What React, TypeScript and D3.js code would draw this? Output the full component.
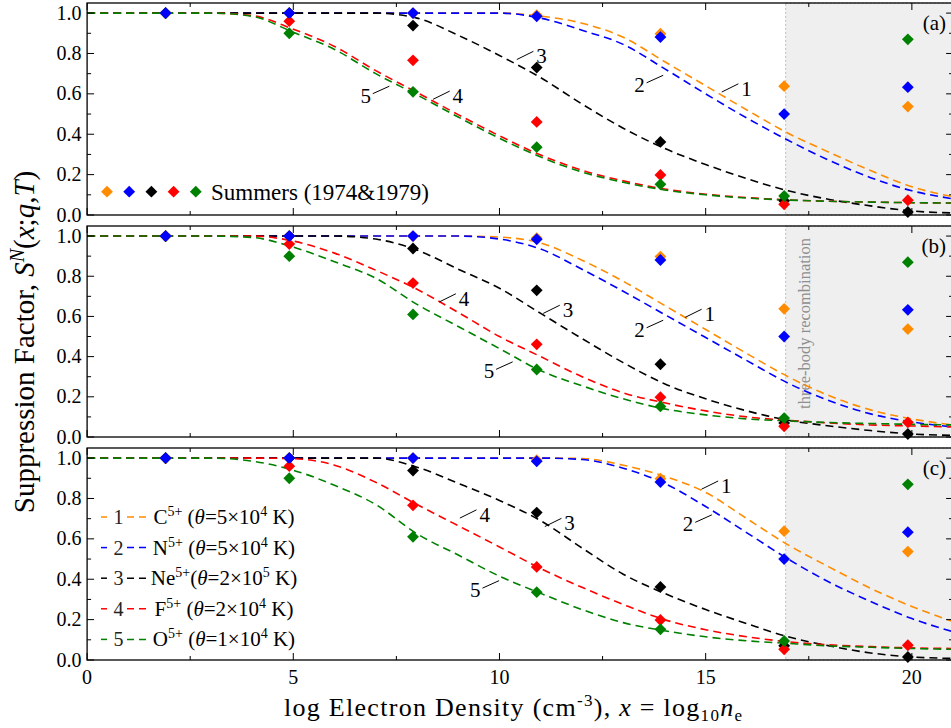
import React from "react";
import * as d3 from "d3";

// ---------- data ----------
const curveX = [0, 1, 2, 3, 4, 5, 6, 7, 8, 9, 10, 11, 12, 13, 14, 15, 16, 17, 18, 19, 20, 21];

// panel (a)
const aC = [1, 1, 1, 1, 1, 1, 1, 1, 1, 1, 1, 0.985, 0.95, 0.88, 0.76, 0.64, 0.52, 0.405, 0.31, 0.22, 0.14, 0.09];
const aN = [1, 1, 1, 1, 1, 1, 1, 1, 1, 1, 1, 0.975, 0.915, 0.845, 0.725, 0.6, 0.48, 0.37, 0.27, 0.185, 0.12, 0.08];
const aNe = [1, 1, 1, 1, 1, 1, 1, 1, 0.975, 0.89, 0.79, 0.68, 0.55, 0.43, 0.33, 0.25, 0.18, 0.12, 0.077, 0.045, 0.02, 0.01];
const aF = [1, 1, 1, 1, 0.988, 0.92, 0.835, 0.715, 0.607, 0.497, 0.392, 0.297, 0.222, 0.169, 0.129, 0.103, 0.086, 0.075, 0.068, 0.064, 0.061, 0.059];
const aO = [1, 1, 1, 1, 0.984, 0.905, 0.82, 0.7, 0.595, 0.485, 0.38, 0.287, 0.213, 0.162, 0.124, 0.1, 0.084, 0.074, 0.068, 0.064, 0.061, 0.059];

// panel (b)
const bC = [1, 1, 1, 1, 1, 1, 1, 1, 1, 1, 0.995, 0.965, 0.88, 0.775, 0.655, 0.535, 0.415, 0.3, 0.205, 0.135, 0.09, 0.06];
const bN = [1, 1, 1, 1, 1, 1, 1, 1, 1, 1, 0.985, 0.935, 0.835, 0.725, 0.61, 0.495, 0.38, 0.268, 0.18, 0.115, 0.075, 0.05];
const bNe = [1, 1, 1, 1, 1, 1, 1, 0.985, 0.93, 0.835, 0.74, 0.615, 0.49, 0.37, 0.265, 0.19, 0.13, 0.083, 0.055, 0.032, 0.015, 0.008];
const bF = [1, 1, 1, 1, 1, 0.975, 0.915, 0.83, 0.735, 0.62, 0.5, 0.4, 0.3, 0.22, 0.17, 0.13, 0.1, 0.083, 0.07, 0.06, 0.055, 0.05];
const bO = [1, 1, 1, 1, 0.993, 0.945, 0.872, 0.79, 0.66, 0.55, 0.44, 0.33, 0.255, 0.19, 0.14, 0.11, 0.09, 0.08, 0.072, 0.067, 0.063, 0.06];

// panel (c)
const cC = [1, 1, 1, 1, 1, 1, 1, 1, 1, 1, 1, 1, 0.998, 0.965, 0.91, 0.83, 0.7, 0.57, 0.46, 0.355, 0.265, 0.19];
const cN = [1, 1, 1, 1, 1, 1, 1, 1, 1, 1, 1, 1, 0.993, 0.95, 0.875, 0.76, 0.63, 0.5, 0.385, 0.29, 0.205, 0.14];
const cNe = [1, 1, 1, 1, 1, 1, 1, 1, 0.955, 0.875, 0.79, 0.69, 0.555, 0.425, 0.33, 0.25, 0.18, 0.115, 0.07, 0.035, 0.015, 0.008];
const cF = [1, 1, 1, 1, 1, 0.997, 0.965, 0.88, 0.77, 0.665, 0.56, 0.453, 0.36, 0.275, 0.2, 0.15, 0.115, 0.09, 0.075, 0.066, 0.06, 0.057];
const cO = [1, 1, 1, 1, 0.985, 0.94, 0.865, 0.77, 0.625, 0.52, 0.415, 0.33, 0.25, 0.185, 0.145, 0.115, 0.095, 0.082, 0.07, 0.063, 0.057, 0.053];

// Summers (1974 & 1979) points
const summersX = [1.903, 4.903, 7.903, 10.903, 13.903, 16.903, 19.903];
const summersC = [1.0, 1.0, 1.0, 0.99, 0.898, 0.638, 0.537];
const summersN = [1.0, 1.0, 1.0, 0.984, 0.881, 0.5, 0.633];
const summersNe = [1.0, 1.0, 0.938, 0.73, 0.362, 0.07, 0.015];
const summersF = [1.0, 0.96, 0.766, 0.461, 0.198, 0.053, 0.073];
const summersO = [1.0, 0.9, 0.61, 0.336, 0.152, 0.094, 0.87];

const ionNumbers = ["1", "2", "3", "4", "5"];
const ionElements = ["C", "N", "Ne", "F", "O"];
const ionThetaMant = ["5", "5", "2", "2", "1"];
const ionThetaExp = ["4", "4", "5", "4", "4"];
const ionColors = ["#ff8c00", "#0000ff", "#000000", "#ff0000", "#008000"];

// curve number annotations: [label, x, y, side]
const annA: [string, number, number, string][] = [
  ["1", 15.39, 0.609, "R"], ["2", 13.97, 0.692, "L"], ["3", 10.42, 0.77, "R"], ["4", 8.39, 0.573, "R"], ["5", 7.33, 0.638, "L"],
];
const annB: [string, number, number, string][] = [
  ["1", 14.5, 0.595, "R"], ["2", 13.97, 0.581, "L"], ["3", 11.06, 0.615, "R"], ["4", 8.54, 0.672, "R"], ["5", 10.32, 0.374, "L"],
];
const annC: [string, number, number, string][] = [
  ["1", 14.9, 0.846, "R"], ["2", 15.15, 0.719, "L"], ["3", 11.1, 0.661, "R"], ["4", 9.04, 0.703, "R"], ["5", 9.99, 0.393, "L"],
];

const xMajor = [0, 5, 10, 15, 20];
const xMinor = [2.5, 7.5, 12.5, 17.5];
const yMajor = [0, 0.2, 0.4, 0.6, 0.8, 1.0];
const yMinor = [0.1, 0.3, 0.5, 0.7, 0.9];
const threeBodyStart = 16.94;
const panelLetters = ["(a)", "(b)", "(c)"];

const FONT = "'Liberation Serif', 'Times New Roman', Times, serif";

export default function App() {
  const W = 951;
  const H = 728;
  const left = 87.1;
  const right = 953.1;
  const x = d3.scaleLinear().domain([0, 21]).range([left, right]);

  const panels = [
    { top: 3, bottom: 215, curves: [aC, aN, aNe, aF, aO], ann: annA },
    { top: 226, bottom: 437, curves: [bC, bN, bNe, bF, bO], ann: annB },
    { top: 448, bottom: 660, curves: [cC, cN, cNe, cF, cO], ann: annC },
  ];
  const summers = [summersC, summersN, summersNe, summersF, summersO];
  const markerOrder = [0, 2, 3, 4, 1];
  const diamond = d3.symbol().type(d3.symbolSquare).size(70)() as string;

  return (
    <svg width={W} height={H} style={{ position: "absolute", left: 0, top: 0, background: "#fff" }} fontFamily={FONT}>
      <defs>
        {panels.map((p, pi) => (
          <clipPath id={`clip${pi}`} key={pi}>
            <rect x={left} y={p.top} width={right - left} height={p.bottom - p.top} />
          </clipPath>
        ))}
      </defs>
      {panels.map((p, pi) => {
        const y = d3.scaleLinear().domain([0, 1.05]).range([p.bottom, p.top]);
        const line = d3
          .line<number>()
          .x((_, i) => x(curveX[i]))
          .y((d) => y(d))
          .curve(d3.curveMonotoneX);
        return (
          <g key={pi}>
            {/* three-body shading */}
            <rect
              x={x(threeBodyStart)}
              y={p.top}
              width={right - x(threeBodyStart)}
              height={p.bottom - p.top}
              fill="#efefef"
              stroke="#b4b4b4"
              strokeWidth={0.9}
              strokeDasharray="2,2"
            />
            {pi === 1 && (
              <text
                transform={`translate(${x(threeBodyStart) + 24},${(p.top + p.bottom) / 2 - 8}) rotate(-90)`}
                textAnchor="middle"
                fontSize={16.5}
                fill="#8e8e8e"
              >
                three-body recombination
              </text>
            )}
            {/* curves */}
            <g clipPath={`url(#clip${pi})`}>
              {p.curves.map((c, ci) => (
                <path
                  key={ci}
                  d={line(c) as string}
                  fill="none"
                  stroke={ionColors[ci]}
                  strokeWidth={1.6}
                  strokeDasharray="8,5"
                />
              ))}
            </g>
            {/* Summers points */}
            {markerOrder.map((si) =>
              summersX.map((sx, k) => (
                <path
                  key={`${si}-${k}`}
                  d={diamond}
                  transform={`translate(${x(sx)},${y(summers[si][k])}) rotate(45)`}
                  fill={ionColors[si]}
                />
              ))
            )}
            {/* annotations */}
            {p.ann.map(([lab, ax, ay, side], k) => {
              const px = x(ax);
              const py = y(ay);
              if (side === "R") {
                return (
                  <g key={k}>
                    <line x1={px} y1={py} x2={px + 16.6} y2={py - 8.2} stroke="#000" strokeWidth={1} />
                    <text x={px + 19.5} y={py - 8.2 + 12} fontSize={21} fill="#000">
                      {lab}
                    </text>
                  </g>
                );
              }
              return (
                <g key={k}>
                  <line x1={px} y1={py} x2={px - 16.6} y2={py + 7.5} stroke="#000" strokeWidth={1} />
                  <text x={px - 18.5} y={py + 7.5 + 9} fontSize={21} fill="#000" textAnchor="end">
                    {lab}
                  </text>
                </g>
              );
            })}
            {/* frame */}
            <rect x={left} y={p.top} width={right - left} height={p.bottom - p.top} fill="none" stroke="#000" strokeWidth={1.3} />
            {/* ticks */}
            {xMajor.map((t) => (
              <g key={`xM${t}`}>
                <line x1={x(t)} x2={x(t)} y1={p.bottom} y2={p.bottom - 7} stroke="#000" strokeWidth={1} />
                <line x1={x(t)} x2={x(t)} y1={p.top} y2={p.top + 7} stroke="#000" strokeWidth={1} />
              </g>
            ))}
            {xMinor.map((t) => (
              <g key={`xm${t}`}>
                <line x1={x(t)} x2={x(t)} y1={p.bottom} y2={p.bottom - 4} stroke="#000" strokeWidth={1} />
                <line x1={x(t)} x2={x(t)} y1={p.top} y2={p.top + 4} stroke="#000" strokeWidth={1} />
              </g>
            ))}
            {yMajor.map((t) => (
              <g key={`yM${t}`}>
                <line x1={left} x2={left + 7} y1={y(t)} y2={y(t)} stroke="#000" strokeWidth={1} />
                <line x1={right} x2={right - 7} y1={y(t)} y2={y(t)} stroke="#000" strokeWidth={1} />
                <text x={left - 5.5} y={y(t) + 6.5} textAnchor="end" fontSize={20} fill="#000">
                  {t.toFixed(1)}
                </text>
              </g>
            ))}
            {yMinor.map((t) => (
              <g key={`ym${t}`}>
                <line x1={left} x2={left + 4} y1={y(t)} y2={y(t)} stroke="#000" strokeWidth={1} />
                <line x1={right} x2={right - 4} y1={y(t)} y2={y(t)} stroke="#000" strokeWidth={1} />
              </g>
            ))}
            {pi === 2 &&
              xMajor.map((t) => (
                <text key={`xl${t}`} x={x(t)} y={p.bottom + 23.5} textAnchor="middle" fontSize={20} fill="#000">
                  {t}
                </text>
              ))}
            {/* panel letter */}
            <text x={946} y={p.top + 27} textAnchor="end" fontSize={21} fill="#000">
              {panelLetters[pi]}
            </text>
            {/* Summers legend in (a) */}
            {pi === 0 && (
              <g>
                {ionColors.map((col, k) => (
                  <path
                    key={k}
                    d={diamond}
                    transform={`translate(${107 + k * 22.2},${p.bottom - 23.3}) rotate(45)`}
                    fill={col}
                  />
                ))}
                <text x={211} y={p.bottom - 15.5} fontSize={23} fill="#000">
                  Summers (1974&amp;1979)
                </text>
              </g>
            )}
            {/* line legend in (c) */}
            {pi === 2 && (
              <g>
                {ionNumbers.map((num, k) => {
                  const ry = 517 + k * 30.6;
                  return (
                    <g key={k}>
                      <line x1={101} x2={110} y1={ry} y2={ry} stroke={ionColors[k]} strokeWidth={1.5} strokeDasharray="6,4" />
                      <line x1={127} x2={146} y1={ry} y2={ry} stroke={ionColors[k]} strokeWidth={1.5} strokeDasharray="7,5" />
                      <text x={118.5} y={ry + 7} textAnchor="middle" fontSize={20} fill="#222">
                        {num}
                      </text>
                      <text x={224} y={ry + 7} textAnchor="middle" fontSize={21} fill="#000">
                        {ionElements[k]}
                        <tspan fontSize={14} dy={-8}>5+</tspan>
                        <tspan dy={8}>{k === 2 ? "(" : " ("}</tspan>
                        <tspan fontStyle="italic">θ</tspan>
                        <tspan>{`=${ionThetaMant[k]}×10`}</tspan>
                        <tspan fontSize={14} dy={-8}>{ionThetaExp[k]}</tspan>
                        <tspan dy={8}> K)</tspan>
                      </text>
                    </g>
                  );
                })}
              </g>
            )}
          </g>
        );
      })}
      {/* axis titles */}
      <text transform="translate(34,342) rotate(-90)" textAnchor="middle" fontSize={29} fill="#000">
        Suppression Factor,{" "}
        <tspan fontStyle="italic">S</tspan>
        <tspan fontStyle="italic" fontSize={20} dy={-10}>N</tspan>
        <tspan dy={10}>(</tspan>
        <tspan fontStyle="italic">x</tspan>
        <tspan>;</tspan>
        <tspan fontStyle="italic">q</tspan>
        <tspan>,</tspan>
        <tspan fontStyle="italic">T</tspan>
        <tspan>)</tspan>
      </text>
      <text x={513} y={716} textAnchor="middle" fontSize={26} fill="#000" textLength={458} lengthAdjust="spacing">
        log Electron Density (cm
        <tspan fontSize={17} dy={-10}>-3</tspan>
        <tspan dy={10}>), </tspan>
        <tspan fontStyle="italic">x</tspan>
        <tspan> = log</tspan>
        <tspan fontSize={17} dy={5}>10</tspan>
        <tspan fontStyle="italic" dy={-5}>n</tspan>
        <tspan fontSize={17} dy={5}>e</tspan>
      </text>
    </svg>
  );
}
